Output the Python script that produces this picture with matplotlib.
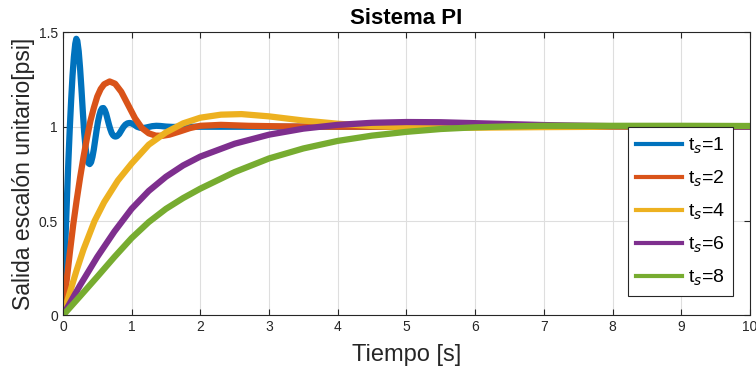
"""Step responses of the PI-controlled system for several settling times."""

import matplotlib

matplotlib.use("Agg")
import matplotlib.pyplot as plt

plt.rcParams["font.family"] = ["Liberation Sans", "DejaVu Sans"]

# values (time in s, output in psi)
t_ts1 = [0, 0.02, 0.04, 0.06, 0.08, 0.10, 0.12, 0.14, 0.16, 0.18, 0.195, 0.21,
         0.23, 0.25, 0.27, 0.29, 0.31, 0.33, 0.35, 0.37, 0.39, 0.41, 0.43, 0.45,
         0.47, 0.49, 0.51, 0.53, 0.55, 0.57, 0.59, 0.61, 0.63, 0.65, 0.67, 0.69,
         0.71, 0.73, 0.75, 0.77, 0.79, 0.82, 0.85, 0.88, 0.91, 0.94, 0.97, 1.0,
         1.04, 1.08, 1.12, 1.16, 1.2, 1.25, 1.3, 1.36, 1.42, 1.5, 1.6, 1.8, 10]
y_ts1 = [0, 0.22, 0.43, 0.63, 0.82, 0.99, 1.14, 1.27, 1.37, 1.44, 1.466, 1.455,
         1.40, 1.31, 1.20, 1.08, 0.97, 0.89, 0.835, 0.808, 0.802, 0.812, 0.84,
         0.88, 0.93, 0.98, 1.025, 1.06, 1.085, 1.098, 1.099, 1.088, 1.068, 1.04,
         1.012, 0.987, 0.967, 0.955, 0.949, 0.948, 0.951, 0.962, 0.98, 0.998,
         1.011, 1.018, 1.02, 1.018, 1.01, 1.0, 0.995, 0.993, 0.995, 0.999,
         1.003, 1.005, 1.004, 1.001, 0.999, 1.0, 1.0]

t_ts2 = [0, 0.05, 0.10, 0.15, 0.20, 0.25, 0.30, 0.35, 0.40, 0.45, 0.50, 0.55,
         0.60, 0.68, 0.76, 0.85, 0.95, 1.05, 1.15, 1.25, 1.35, 1.45, 1.55, 1.70,
         1.85, 2.0, 2.3, 2.7, 3.2, 4.0, 10]
y_ts2 = [0, 0.17, 0.33, 0.48, 0.61, 0.73, 0.84, 0.94, 1.03, 1.10, 1.16, 1.20,
         1.225, 1.24, 1.228, 1.185, 1.115, 1.045, 0.993, 0.965, 0.953, 0.952,
         0.958, 0.975, 0.993, 1.005, 1.01, 1.005, 1.002, 1.0, 1.0]

t_ts4 = [0, 0.10, 0.20, 0.30, 0.46, 0.60, 0.80, 1.0, 1.25, 1.5, 1.75, 2.0,
         2.3, 2.6, 3.0, 3.5, 4.0, 4.5, 5.0, 6.0, 7.0, 8.0, 10]
y_ts4 = [0, 0.12, 0.24, 0.35, 0.50, 0.60, 0.715, 0.805, 0.905, 0.97, 1.018,
         1.048, 1.064, 1.067, 1.055, 1.033, 1.016, 1.004, 0.997, 0.995, 0.998,
         1.0, 1.0]

t_ts6 = [0, 0.25, 0.50, 0.75, 1.0, 1.25, 1.5, 1.75, 2.0, 2.5, 3.0, 3.5, 4.0,
         4.5, 5.0, 5.5, 6.0, 7.0, 8.0, 9.0, 10]
y_ts6 = [0, 0.16, 0.31, 0.445, 0.565, 0.66, 0.735, 0.795, 0.842, 0.91, 0.958,
         0.99, 1.01, 1.021, 1.025, 1.024, 1.019, 1.009, 1.003, 1.001, 1.0]

t_ts8 = [0, 0.25, 0.50, 0.75, 1.0, 1.25, 1.5, 1.75, 2.0, 2.5, 3.0, 3.5, 4.0,
         4.5, 5.0, 5.5, 6.0, 6.5, 7.0, 8.0, 9.0, 10]
y_ts8 = [0, 0.102, 0.205, 0.31, 0.41, 0.495, 0.565, 0.622, 0.672, 0.76, 0.832,
         0.885, 0.925, 0.953, 0.973, 0.988, 0.997, 1.002, 1.005, 1.005, 1.005,
         1.004]

labels = ["t$_s$=1", "t$_s$=2", "t$_s$=4", "t$_s$=6", "t$_s$=8"]
colors = ["#0072BD", "#D95319", "#EDB120", "#7E2F8E", "#77AC30"]
series = [(t_ts1, y_ts1), (t_ts2, y_ts2), (t_ts4, y_ts4),
          (t_ts6, y_ts6), (t_ts8, y_ts8)]

fig = plt.figure(figsize=(7.56, 3.81), dpi=100)
ax = fig.add_axes([0.0832, 0.172, 0.9088, 0.743])

for (t, y), lab, col in zip(series, labels, colors):
    ax.plot(t, y, color=col, lw=4.5, label=lab, solid_joinstyle="round")

ax.set_xlim(0, 10)
ax.set_ylim(0, 1.5)
ax.set_xticks(range(0, 11))
ax.set_yticks([0, 0.5, 1, 1.5])
ax.set_yticklabels(["0", "0.5", "1", "1.5"])
ax.grid(True, color="#DEDEDE", lw=0.8)
ax.set_axisbelow(True)

for sp in ax.spines.values():
    sp.set_color("#262626")
    sp.set_linewidth(0.8)
ax.tick_params(direction="in", length=4, width=0.8, color="#262626",
               labelcolor="#262626", labelsize=10, top=True, right=True)

ax.set_title("Sistema PI", fontsize=16, fontweight="bold", pad=6)
ax.set_xlabel("Tiempo [s]", fontsize=17, color="#262626", labelpad=7)
ax.set_ylabel("Salida escalón unitario[psi]", fontsize=16.5, color="#262626",
              labelpad=3)

leg = ax.legend(loc="upper right", bbox_to_anchor=(0.976, 0.665),
                borderaxespad=0, fontsize=14, frameon=True, fancybox=False,
                framealpha=1, edgecolor="#262626", handlelength=2.4,
                handletextpad=0.3, labelspacing=0.66, borderpad=0.42)
leg.get_frame().set_linewidth(0.8)
for line in leg.get_lines():
    line.set_linewidth(3)

fig.savefig("out.png", dpi=100)
